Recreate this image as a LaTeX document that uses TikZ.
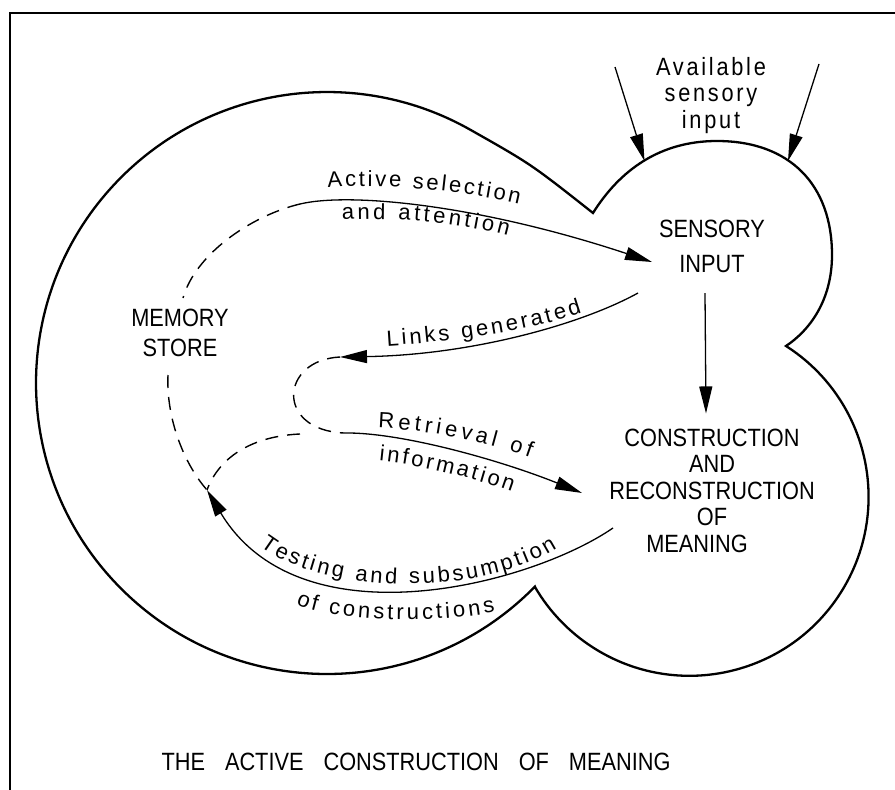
\documentclass[tikz,border=0pt]{standalone}
\usepackage{fontspec}
\setmainfont{Liberation Sans}[FakeStretch=0.87]
\newfontfamily\spacedfont{Liberation Sans}[FakeStretch=0.87,LetterSpace=11]
\newfontfamily\curvefont{Liberation Sans}
\usetikzlibrary{arrows.meta,decorations.text}
\newcommand\curvelabelfont{\curvefont\fontsize{22}{25}\selectfont}
\begin{document}
\begin{tikzpicture}[x=1pt,y=-1pt,
  frame/.style={line width=2.6pt, line join=miter},
  outline/.style={line width=2.3pt, line join=miter},
  conn/.style={line width=1.3pt, -{Triangle[length=27pt,width=13pt]}},
  memline/.style={line width=1.4pt, dash pattern=on 13pt off 9pt},
  caps/.style={align=center, inner sep=0pt},
  alongpath/.style={decorate, decoration={text along path, text align={fit to path}, text={|\curvelabelfont|#1}}},
]
\useasboundingbox (0,0) rectangle (895,790);

% page frame (left and top edges)
\draw[frame] (10,800) -- (10,13) -- (905,13);

% outline: memory lobe, sensory lobe, meaning lobe
\draw[outline] (534.91,586.60)
  arc[start angle=44.4, end angle=299.5, radius=291]
  .. controls (531.2,164.2) .. (593,213)
  .. controls (620,170) and (660,141) .. (717,141)
  .. controls (790,141) and (832,185) .. (832,255)
  .. controls (832,300) and (810,330) .. (786,346)
  arc[start angle=-57.4, end angle=149.6, radius=179]
  -- cycle;

% text nodes
\node[caps, font=\spacedfont\fontsize{25}{26.5}\selectfont] (avail) at (711,95.5) {Available\\sensory\\input};
\node[caps, font=\fontsize{25}{35}\selectfont] (sens) at (712,246.5) {SENSORY\\INPUT};
\node[caps, font=\fontsize{25}{26.5}\selectfont] (cons) at (712,490.5)
  {CONSTRUCTION\\AND\\RECONSTRUCTION\\OF\hspace*{24pt}\\MEANING\hspace*{30pt}};
\node[caps, font=\fontsize{25}{30}\selectfont] (mem) at (180,332.5) {MEMORY\\STORE};
\node[caps, font=\fontsize{25}{30}\selectfont] (title) at (416,762)
  {THE\hspace{20pt}ACTIVE\hspace{20pt}CONSTRUCTION\hspace{20pt}OF\hspace{20pt}MEANING};

% connector end points
\coordinate (inLeftTail) at (615,67);
\coordinate (inLeftTip) at (644.5,161);
\coordinate (inRightTail) at (819,64);
\coordinate (inRightTip) at (788,161);
\coordinate (selStart) at (300,204);
\coordinate (selEnd) at (652,262);
\coordinate (linkStart) at (638,293);
\coordinate (linkEnd) at (340,357);
\coordinate (retStart) at (344,433);
\coordinate (retEnd) at (582,493);
\coordinate (testStart) at (613,528);
\coordinate (testEnd) at (207,490);
\coordinate (memTop) at (183,298);
\coordinate (memBottom) at (168,375);
\coordinate (loopJoin) at (300,434);

% incoming sensory arrows
\draw[conn] (inLeftTail) -- (inLeftTip);
\draw[conn] (inRightTail) -- (inRightTip);

% solid connectors
\draw[conn] (selStart) .. controls (350,192) and (480,205) .. (selEnd);
\draw[conn] (linkStart) .. controls (580,325) and (470,355) .. (linkEnd);
\draw[conn] (retStart) .. controls (400,432) and (500,460) .. (retEnd);
\draw[conn] (testStart) .. controls (530,585) and (300,645) .. (testEnd);
\draw[conn] ([xshift=-7pt,yshift=-20pt]sens.south) -- ([xshift=-6pt,yshift=15pt]cons.north);

% dashed memory paths
\draw[memline] (selStart) .. controls (250,216) and (195,255) .. (memTop);
\draw[memline] (memBottom) .. controls (166,420) and (185,465) .. (testEnd);
\draw[memline] (linkEnd) .. controls (280,360) and (275,430) .. (retStart);
\draw[memline] (loopJoin) .. controls (255,436) and (220,455) .. (testEnd);

% curved labels
\path[alongpath={Active selection}] (328,188) .. controls (380,183) and (460,190) .. (519,204);
\path[alongpath={and attention}] (342,220) .. controls (400,217) and (460,223) .. (508,236);
\path[alongpath={Links generated}] (387,346) .. controls (450,342) and (525,332) .. (582,313);
\path[alongpath={Retrieval of}] (378,428) .. controls (430,430) and (485,442) .. (530,458);
\path[alongpath={information}] (379,461) .. controls (420,465) and (470,477) .. (512,492);
\path[alongpath={Testing and subsumption}] (260,546) .. controls (315,590) and (470,602) .. (557,548);
\path[alongpath={of constructions}] (296,604) .. controls (325,620) and (430,625) .. (495,612);
\end{tikzpicture}
\end{document}
